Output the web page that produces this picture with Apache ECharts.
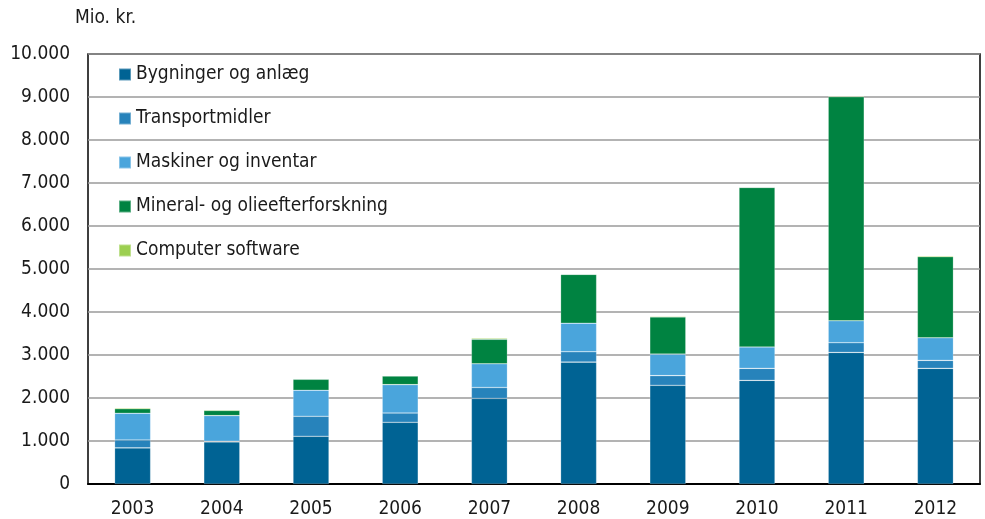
<!DOCTYPE html>
<html>
<head>
<meta charset="utf-8">
<script src="https://cdn.jsdelivr.net/npm/echarts@6/dist/echarts.min.js"></script>
<style>
  html, body { margin: 0; padding: 0; background: #fff; }
  #chart { width: 985px; height: 519px; }
</style>
</head>
<body>
<div id="chart"></div>
<script>
// Investments by asset type, mio. kr.
const years = ['2003', '2004', '2005', '2006', '2007', '2008', '2009', '2010', '2011', '2012'];
const bygninger = [840, 980, 1110, 1435, 1990, 2835, 2295, 2410, 3060, 2690];
const transport = [185, 15, 465, 215, 255, 240, 225, 280, 225, 185];
const maskiner = [620, 595, 605, 660, 550, 665, 500, 495, 510, 525];
const mineral = [105, 120, 255, 200, 570, 1135, 865, 3710, 5210, 1885];
const software = [25, 20, 15, 15, 25, 15, 20, 15, 20, 25];
const yTicks = [0, 1000, 2000, 3000, 4000, 5000, 6000, 7000, 8000, 9000, 10000];

const seriesNames = ['Bygninger og anlæg', 'Transportmidler', 'Maskiner og inventar',
  'Mineral- og olieefterforskning', 'Computer software'];
const seriesData = [bygninger, transport, maskiner, mineral, software];
const colors = ['#006394', '#2783bb', '#4aa5dc', '#008341', '#9ccf50'];

const FONT = '"DejaVu Sans Condensed", "Liberation Sans Narrow", "Liberation Sans", sans-serif';
const TEXT = '#1a1a1a';

function fmt(v) {
  return String(v).replace(/\B(?=(\d{3})+(?!\d))/g, '.');
}

const chart = echarts.init(document.getElementById('chart'), null, { renderer: 'canvas' });
chart.setOption({
  animation: false,
  textStyle: { fontFamily: FONT, color: TEXT },
  color: colors,
  grid: {
    left: 88, right: 5, top: 54, bottom: 34,
    show: true, borderColor: '#000', borderWidth: 1.5, backgroundColor: 'transparent'
  },
  title: {
    text: 'Mio. kr.', left: 70, top: 4,
    textStyle: { fontFamily: FONT, fontSize: 19, fontWeight: 'normal', color: TEXT }
  },
  legend: {
    orient: 'vertical', left: 113, top: 60,
    itemWidth: 12, itemHeight: 12, itemGap: 25, icon: 'rect',
    data: seriesNames,
    textStyle: { fontFamily: FONT, fontSize: 19, color: TEXT }
  },
  xAxis: {
    type: 'category', data: years,
    axisLine: { show: true, lineStyle: { color: '#000', width: 2 } },
    axisTick: { show: false },
    axisLabel: { fontFamily: FONT, fontSize: 19, color: TEXT, margin: 16 }
  },
  yAxis: {
    type: 'value', min: yTicks[0], max: yTicks[yTicks.length - 1], interval: yTicks[1] - yTicks[0],
    axisLine: { show: false }, axisTick: { show: false },
    splitLine: { lineStyle: { color: '#9a9a9a', width: 1.5 } },
    axisLabel: { fontFamily: FONT, fontSize: 19, color: TEXT, margin: 18, formatter: fmt }
  },
  series: seriesNames.map((name, i) => ({
    name, type: 'bar', stack: 'total', data: seriesData[i], barWidth: 36,
    itemStyle: { color: colors[i], borderColor: 'rgba(255,255,255,0.35)', borderWidth: 0.6 }
  }))
});
</script>
</body>
</html>
